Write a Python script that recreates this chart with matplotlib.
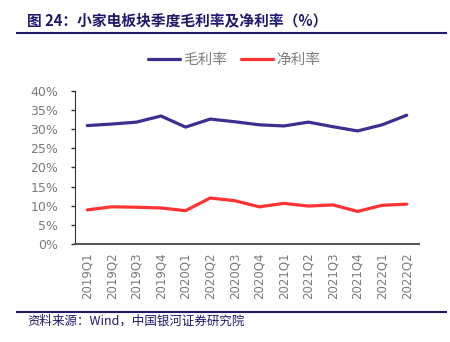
import matplotlib.pyplot as plt

plt.rcParams['font.family'] = ['Noto Sans CJK SC', 'DejaVu Sans']

# %% DATA
quarters = ['2019Q1', '2019Q2', '2019Q3', '2019Q4', '2020Q1', '2020Q2', '2020Q3',
            '2020Q4', '2021Q1', '2021Q2', '2021Q3', '2021Q4', '2022Q1', '2022Q2']
gross_margin = [30.9, 31.3, 31.8, 33.4, 30.5, 32.6, 31.9,
                31.1, 30.8, 31.8, 30.6, 29.5, 31.1, 33.6]
net_margin = [8.9, 9.7, 9.6, 9.4, 8.7, 12.0, 11.3,
              9.7, 10.6, 9.9, 10.2, 8.5, 10.1, 10.4]
yticks = [0, 5, 10, 15, 20, 25, 30, 35, 40]

NAVY = '#1f1a6e'
BLUE = '#3c2f91'
RED = '#ff3333'
GREY = '#7a7a7a'

# %% PLOT
fig = plt.figure(figsize=(4.5, 3.42), dpi=100)
ax = fig.add_axes([75 / 450, 1 - 244 / 342, 344 / 450, (244 - 90.7) / 342])

x = list(range(len(quarters)))
ax.plot(x, gross_margin, color=BLUE, lw=2.3, label='毛利率', solid_capstyle='round')
ax.plot(x, net_margin, color=RED, lw=2.3, label='净利率', solid_capstyle='round')

ax.set_xlim(-0.5, len(quarters) - 0.5)
ax.set_ylim(0, 40)
ax.set_yticks(yticks)
ax.set_yticklabels([f'{v}%' for v in yticks], color=GREY, fontsize=9,
                   family=['DejaVu Sans'])
ax.set_xticks(x)
ax.set_xticklabels(quarters, rotation=90, color=GREY, fontsize=8.5,
                   family=['DejaVu Sans'])
ax.tick_params(axis='x', length=0, pad=6)
ax.tick_params(axis='y', length=3, width=1, color='#333333', pad=9)

for s in ['top', 'right']:
    ax.spines[s].set_visible(False)
ax.spines['left'].set_color('#333333')
ax.spines['bottom'].set_color('#595959')
ax.spines['bottom'].set_linewidth(1.5)

fig.legend(loc='center', bbox_to_anchor=(0.52, 1 - 60 / 342), ncol=2,
           frameon=False, fontsize=10.5, labelcolor='#7f7f7f', handlelength=2.2,
           columnspacing=1.0, handletextpad=0.2)

# title and source
fig.text(27 / 450, 1 - 20 / 342, '图 24：小家电板块季度毛利率及净利率（%）',
         color=NAVY, fontsize=10.6, fontweight='bold', va='center')
fig.add_artist(plt.Line2D([17 / 450, 446 / 450], [1 - 33 / 342, 1 - 33 / 342],
                          color=NAVY, lw=1.5))
fig.add_artist(plt.Line2D([17 / 450, 446 / 450], [1 - 312 / 342, 1 - 312 / 342],
                          color=NAVY, lw=1.5))
fig.text(27 / 450, 1 - 321 / 342, '资料来源：Wind，中国银河证券研究院',
         color=NAVY, fontsize=9, style='italic', va='center')

plt.savefig('out.png', dpi=100)
